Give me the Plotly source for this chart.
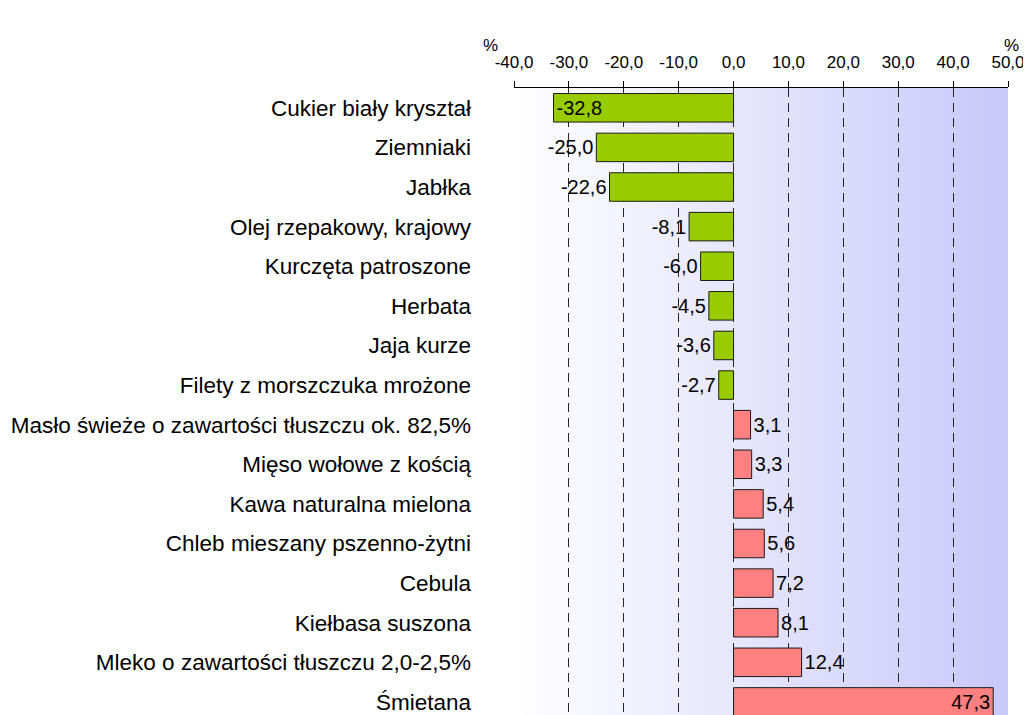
import base64
import plotly.graph_objects as go

categories = [
    "Cukier biały kryształ",
    "Ziemniaki",
    "Jabłka",
    "Olej rzepakowy, krajowy",
    "Kurczęta patroszone",
    "Herbata",
    "Jaja kurze",
    "Filety z morszczuka mrożone",
    "Masło świeże o zawartości tłuszczu ok. 82,5%",
    "Mięso wołowe z kością",
    "Kawa naturalna mielona",
    "Chleb mieszany pszenno-żytni",
    "Cebula",
    "Kiełbasa suszona",
    "Mleko o zawartości tłuszczu 2,0-2,5%",
    "Śmietana",
]
values = [-32.8, -25.0, -22.6, -8.1, -6.0, -4.5, -3.6, -2.7,
          3.1, 3.3, 5.4, 5.6, 7.2, 8.1, 12.4, 47.3]
tick_vals = [-40, -30, -20, -10, 0, 10, 20, 30, 40, 50]
tick_text = ["-40,0", "-30,0", "-20,0", "-10,0", "0,0", "10,0", "20,0", "30,0", "40,0", "50,0"]

labels = [f"{v:.1f}".replace(".", ",") for v in values]
colors = ["#99cc00" if v < 0 else "#ff8080" for v in values]
positions = ["inside" if abs(v) > 30 else "outside" for v in values]

FONT = "Liberation Sans, Arial"

fig = go.Figure()
fig.add_trace(go.Bar(
    x=values, y=categories, orientation="h",
    marker=dict(color=colors, line=dict(color="#1a1a1a", width=1)),
    width=0.72,
    text=labels, textposition=positions, insidetextanchor="end",
    textfont=dict(family=FONT, size=20, color="#000000"),
    outsidetextfont=dict(family=FONT, size=20, color="#000000"),
    insidetextfont=dict(family=FONT, size=20, color="#000000"),
    constraintext="none", cliponaxis=False,
    hoverinfo="skip",
))

svg = ('<svg xmlns="http://www.w3.org/2000/svg" width="100" height="100" preserveAspectRatio="none">'
       '<defs><linearGradient id="g" x1="0" y1="0" x2="1" y2="0">'
       '<stop offset="0" stop-color="#ffffff"/><stop offset="1" stop-color="#c8c8fa"/>'
       '</linearGradient></defs><rect width="100" height="100" fill="url(#g)"/></svg>')
src = "data:image/svg+xml;base64," + base64.b64encode(svg.encode()).decode()

fig.update_layout(
    width=1023, height=707,
    margin=dict(l=506, r=23, t=80, b=0, autoexpand=False),
    paper_bgcolor="white", plot_bgcolor="rgba(0,0,0,0)",
    font=dict(family=FONT, size=17, color="#000000"),
    showlegend=False,
    images=[dict(source=src, xref="x", yref="paper", x=-40, y=1, sizex=90, sizey=1,
                 sizing="stretch", layer="below", xanchor="left", yanchor="top")],
    annotations=[
        dict(text="%", xref="paper", yref="paper", x=-0.047, y=1.068, showarrow=False,
             font=dict(size=17), xanchor="center", yanchor="middle"),
        dict(text="%", xref="paper", yref="paper", x=1.008, y=1.068, showarrow=False,
             font=dict(size=17), xanchor="center", yanchor="middle"),
    ],
)
fig.update_xaxes(
    side="top", range=[-40, 50], tickvals=tick_vals, ticktext=tick_text,
    showline=True, linecolor="#000000", linewidth=1,
    ticks="outside", ticklen=6, tickcolor="#000000",
    tickfont=dict(size=17), ticklabelstandoff=6, automargin=False,
    showgrid=True, gridcolor="#262626", gridwidth=1, griddash="9px,6px",
    zeroline=False,
)
fig.update_yaxes(
    categoryorder="array", categoryarray=categories, automargin=False,
    range=[15.33, -0.5], showline=False, showgrid=False, zeroline=False,
    ticks="", tickfont=dict(size=22.5), ticklabelstandoff=42,
)

fig.write_html("out.html")
